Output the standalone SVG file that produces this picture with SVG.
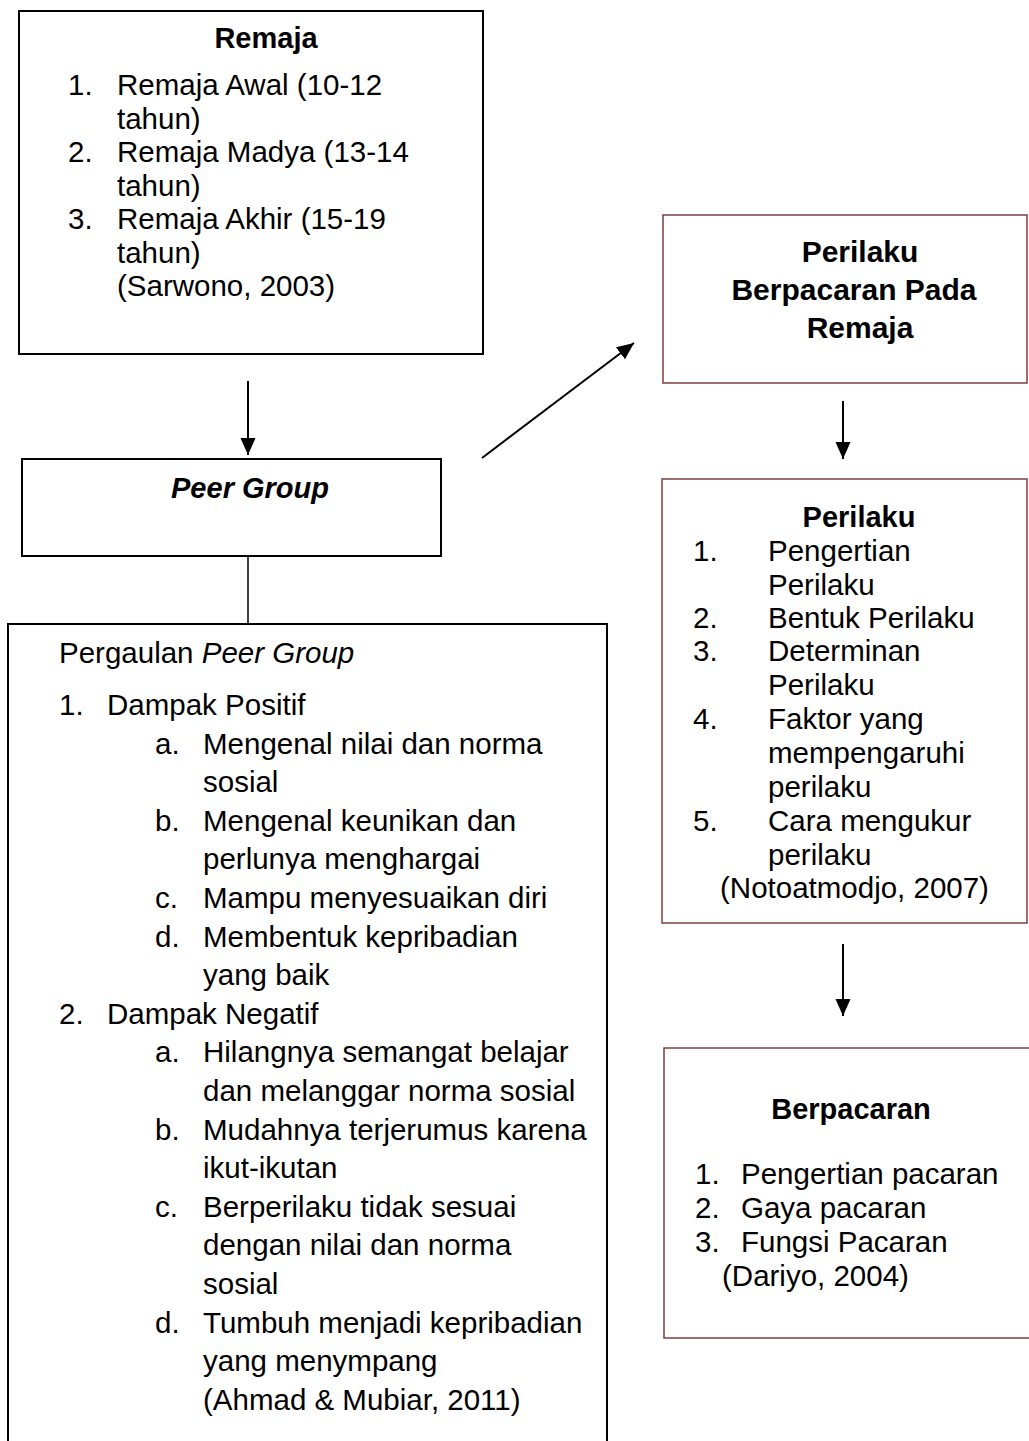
<svg xmlns="http://www.w3.org/2000/svg" width="1029" height="1441" viewBox="0 0 1029 1441">
<style>
text{font-family:"Liberation Sans",Arial,sans-serif;font-size:29.5px;fill:#000}
.b{font-weight:bold;font-size:29px}
.i{font-style:italic}
.m{text-anchor:middle}
.t{font-size:30px}
.boxk{fill:#fff;stroke:#000;stroke-width:2}
.boxr{fill:#fff;stroke:#7f3f3f;stroke-width:1.5}
.con{stroke:#000;stroke-width:2;fill:none}
</style>
<defs>
<marker id="ah" markerUnits="userSpaceOnUse" markerWidth="18" markerHeight="16" refX="17" refY="7.5" orient="auto">
<path d="M0,0 L17,7.5 L0,15 z" fill="#000"/>
</marker>
</defs>
<rect width="1029" height="1441" fill="#fff"/>

<g id="remaja">
<rect class="boxk" x="19" y="11" width="464" height="343"/>
<text class="b m" x="266" y="48">Remaja</text>
<text x="68" y="95">1.</text><text x="117" y="95">Remaja Awal (10-12</text>
<text x="117" y="128.5">tahun)</text>
<text x="68" y="162">2.</text><text x="117" y="162">Remaja Madya (13-14</text>
<text x="117" y="195.5">tahun)</text>
<text x="68" y="229">3.</text><text x="117" y="229">Remaja Akhir (15-19</text>
<text x="117" y="262.5">tahun)</text>
<text x="117" y="296">(Sarwono, 2003)</text>
</g>

<g id="peer-group">
<rect class="boxk" x="22" y="459" width="419" height="97"/>
<text class="b i m" x="250" y="498">Peer Group</text>
</g>

<g id="pergaulan">
<rect class="boxk" x="8" y="624" width="599" height="830"/>
<text x="59" y="663">Pergaulan <tspan class="i">Peer Group</tspan></text>
<text x="59" y="715">1.</text><text x="107" y="715">Dampak Positif</text>
<text x="155" y="753.6">a.</text><text x="203" y="753.6">Mengenal nilai dan norma</text>
<text x="203" y="792.2">sosial</text>
<text x="155" y="830.8">b.</text><text x="203" y="830.8">Mengenal keunikan dan</text>
<text x="203" y="869.4">perlunya menghargai</text>
<text x="155" y="908">c.</text><text x="203" y="908">Mampu menyesuaikan diri</text>
<text x="155" y="946.6">d.</text><text x="203" y="946.6">Membentuk kepribadian</text>
<text x="203" y="985.2">yang baik</text>
<text x="59" y="1023.8">2.</text><text x="107" y="1023.8">Dampak Negatif</text>
<text x="155" y="1062.4">a.</text><text x="203" y="1062.4">Hilangnya semangat belajar</text>
<text x="203" y="1101">dan melanggar norma sosial</text>
<text x="155" y="1139.6">b.</text><text x="203" y="1139.6">Mudahnya terjerumus karena</text>
<text x="203" y="1178.2">ikut-ikutan</text>
<text x="155" y="1216.8">c.</text><text x="203" y="1216.8">Berperilaku tidak sesuai</text>
<text x="203" y="1255.4">dengan nilai dan norma</text>
<text x="203" y="1294">sosial</text>
<text x="155" y="1332.6">d.</text><text x="203" y="1332.6">Tumbuh menjadi kepribadian</text>
<text x="203" y="1371.2">yang menympang</text>
<text x="203" y="1409.8">(Ahmad &amp; Mubiar, 2011)</text>
</g>

<g id="perilaku-berpacaran">
<rect class="boxr" x="663" y="215" width="364" height="168"/>
<text class="b m t" x="860" y="262">Perilaku</text>
<text class="b m t" x="854" y="300">Berpacaran Pada</text>
<text class="b m t" x="860" y="338">Remaja</text>
</g>

<g id="perilaku">
<rect class="boxr" x="662" y="479" width="365" height="444"/>
<text class="b m" x="859" y="527">Perilaku</text>
<text x="693" y="561">1.</text><text x="768" y="561">Pengertian</text>
<text x="768" y="595">Perilaku</text>
<text x="693" y="628">2.</text><text x="768" y="628">Bentuk Perilaku</text>
<text x="693" y="661">3.</text><text x="768" y="661">Determinan</text>
<text x="768" y="695">Perilaku</text>
<text x="693" y="729">4.</text><text x="768" y="729">Faktor yang</text>
<text x="768" y="763">mempengaruhi</text>
<text x="768" y="797">perilaku</text>
<text x="693" y="831">5.</text><text x="768" y="831">Cara mengukur</text>
<text x="768" y="865">perilaku</text>
<text x="720" y="898">(Notoatmodjo, 2007)</text>
</g>

<g id="berpacaran">
<rect class="boxr" x="664" y="1048" width="370" height="290"/>
<text class="b m" x="851" y="1119">Berpacaran</text>
<text x="695" y="1184">1.</text><text x="741" y="1184">Pengertian pacaran</text>
<text x="695" y="1218">2.</text><text x="741" y="1218">Gaya pacaran</text>
<text x="695" y="1252">3.</text><text x="741" y="1252">Fungsi Pacaran</text>
<text x="722" y="1286">(Dariyo, 2004)</text>
</g>

<g id="connectors">
<line class="con" x1="248" y1="381" x2="248" y2="455" marker-end="url(#ah)"/>
<line class="con" x1="248" y1="556" x2="248" y2="624" style="stroke-width:1.5"/>
<line class="con" x1="482" y1="458" x2="634" y2="343" marker-end="url(#ah)"/>
<line class="con" x1="843" y1="401" x2="843" y2="459" marker-end="url(#ah)"/>
<line class="con" x1="843" y1="944" x2="843" y2="1016" marker-end="url(#ah)"/>
</g>
</svg>
